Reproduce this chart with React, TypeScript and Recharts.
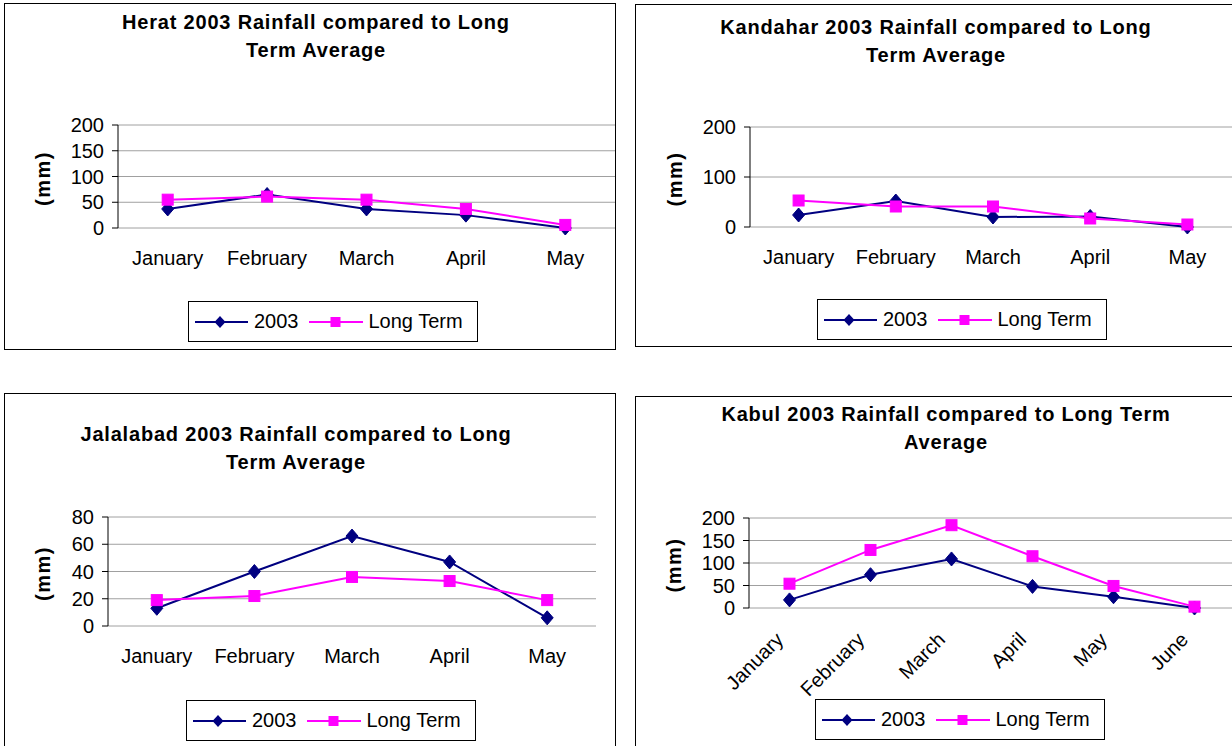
import { LineChart, Line, XAxis, YAxis, CartesianGrid } from "recharts"

const FONT = "Arial, 'Liberation Sans', sans-serif"
const NAVY = "#000080"
const MAGENTA = "#ff00ff"

// month categories
const months5 = ["January", "February", "March", "April", "May"]
const months6 = ["January", "February", "March", "April", "May", "June"]

// rainfall (mm)
const herat2003 = [37, 65, 37, 25, 0]
const heratLong = [55, 61, 55, 37, 6]
const heratTicks = [0, 50, 100, 150, 200]

const kandahar2003 = [24, 52, 20, 21, 0]
const kandaharLong = [53, 41, 41, 17, 5]
const kandaharTicks = [0, 100, 200]

const jalalabad2003 = [13, 40, 66, 47, 6]
const jalalabadLong = [19, 22, 36, 33, 19]
const jalalabadTicks = [0, 20, 40, 60, 80]

const kabul2003 = [18, 74, 109, 48, 25, 0]
const kabulLong = [54, 129, 184, 115, 49, 3]
const kabulTicks = [0, 50, 100, 150, 200]

type Rect = { left: number; top: number; width: number; height: number }
type PanelCfg = {
  box: Rect
  plot: { left: number; top: number; right: number; bottom: number }
  months: string[]
  series2003: number[]
  seriesLong: number[]
  yTicks: number[]
  title: string[]
  titleX: number
  titleY: number
  mmX: number
  legend: { left: number; top: number }
  slanted?: boolean
}

const panels: PanelCfg[] = [
  {
    box: { left: 4, top: 3, width: 612, height: 347 },
    plot: { left: 118, top: 125, right: 615, bottom: 228 },
    months: months5,
    series2003: herat2003,
    seriesLong: heratLong,
    yTicks: heratTicks,
    title: ["Herat 2003 Rainfall compared to Long", "Term Average"],
    titleX: 316,
    titleY: 22,
    mmX: 43,
    legend: { left: 188, top: 301 },
  },
  {
    box: { left: 635, top: 4, width: 605, height: 343 },
    plot: { left: 750, top: 127, right: 1236, bottom: 227 },
    months: months5,
    series2003: kandahar2003,
    seriesLong: kandaharLong,
    yTicks: kandaharTicks,
    title: ["Kandahar 2003 Rainfall compared to Long", "Term Average"],
    titleX: 936,
    titleY: 27,
    mmX: 675,
    legend: { left: 817, top: 299 },
  },
  {
    box: { left: 4, top: 393, width: 612, height: 360 },
    plot: { left: 108, top: 517, right: 596, bottom: 626 },
    months: months5,
    series2003: jalalabad2003,
    seriesLong: jalalabadLong,
    yTicks: jalalabadTicks,
    title: ["Jalalabad 2003 Rainfall compared to Long", "Term Average"],
    titleX: 296,
    titleY: 434,
    mmX: 43,
    legend: { left: 186, top: 700 },
  },
  {
    box: { left: 635, top: 396, width: 605, height: 360 },
    plot: { left: 749, top: 518, right: 1235, bottom: 608 },
    months: months6,
    series2003: kabul2003,
    seriesLong: kabulLong,
    yTicks: kabulTicks,
    title: ["Kabul 2003 Rainfall compared to Long Term", "Average"],
    titleX: 946,
    titleY: 414,
    mmX: 674,
    legend: { left: 815, top: 699 },
    slanted: true,
  },
]

const Diamond = (props: any) => {
  const { cx, cy } = props
  if (cx == null || cy == null) return <g />
  return <path d={`M${cx},${cy - 7} L${cx + 6},${cy} L${cx},${cy + 7} L${cx - 6},${cy} Z`} fill={NAVY} stroke={NAVY} />
}

const Square = (props: any) => {
  const { cx, cy } = props
  if (cx == null || cy == null) return <g />
  return <rect x={cx - 5.5} y={cy - 5.5} width={11} height={11} fill={MAGENTA} stroke={MAGENTA} />
}

const MmLabel = ({ cx, cy }: any) => (
  <text
    x={cx}
    y={cy}
    transform={`rotate(-90 ${cx} ${cy})`}
    textAnchor="middle"
    dominantBaseline="central"
    fontFamily={FONT}
    fontWeight="bold"
    fontSize={20}
    letterSpacing={1.5}
    fill="#000"
  >
    (mm)
  </text>
)

// Kabul month labels sit at 45 degrees, ending under the category
const SlantTick = ({ x, y, payload }: any) => (
  <text
    x={x - 10}
    y={y}
    transform={`rotate(-45 ${x - 10} ${y})`}
    textAnchor="end"
    dominantBaseline="central"
    fontFamily={FONT}
    fontSize={20}
    fill="#000"
  >
    {payload.value}
  </text>
)

function LegendBox({ left, top }: { left: number; top: number }) {
  return (
    <div
      style={{
        position: "absolute",
        left,
        top,
        width: 290,
        height: 41,
        boxSizing: "border-box",
        border: "1px solid #000",
        background: "#fff",
        display: "flex",
        alignItems: "center",
        paddingLeft: 6,
        fontFamily: FONT,
        fontSize: 20,
        whiteSpace: "nowrap",
      }}
    >
      <svg width={53} height={20}>
        <line x1={0} y1={10} x2={53} y2={10} stroke={NAVY} strokeWidth={2} />
        <path d="M25,4 L30.5,10 L25,16 L19.5,10 Z" fill={NAVY} />
      </svg>
      <span style={{ marginLeft: 6, marginRight: 10 }}>2003</span>
      <svg width={54} height={20}>
        <line x1={0} y1={10} x2={54} y2={10} stroke={MAGENTA} strokeWidth={2} />
        <rect x={21.5} y={5} width={10} height={10} fill={MAGENTA} />
      </svg>
      <span style={{ marginLeft: 6 }}>Long Term</span>
    </div>
  )
}

function Panel({ cfg }: { cfg: PanelCfg }) {
  const { box, plot, months, series2003, seriesLong, yTicks } = cfg
  const data = months.map((m, i) => ({ pos: i + 0.5, month: m, y2003: series2003[i], long: seriesLong[i] }))
  const yw = 60
  const xh = 60
  const margin = {
    top: plot.top - box.top,
    left: plot.left - box.left - yw,
    right: box.left + box.width - plot.right,
    bottom: box.top + box.height - plot.bottom - xh,
  }
  const bounds = months.map((_, i) => i).concat(months.length)
  const yMax = yTicks[yTicks.length - 1]

  return (
    <>
      <div
        style={{
          position: "absolute",
          left: box.left,
          top: box.top,
          width: box.width,
          height: box.height,
          boxSizing: "border-box",
          border: "1px solid #000",
        }}
      />
      <div
        style={{
          position: "absolute",
          left: cfg.titleX - 300,
          top: cfg.titleY - 14,
          width: 600,
          textAlign: "center",
          fontFamily: FONT,
          fontWeight: "bold",
          fontSize: 20,
          lineHeight: "28px",
          letterSpacing: 0.8,
        }}
      >
        {cfg.title[0]}
        <br />
        {cfg.title[1]}
      </div>
      <div style={{ position: "absolute", left: box.left, top: box.top }}>
        <LineChart width={box.width} height={box.height} data={data} margin={margin}>
          <CartesianGrid vertical={false} stroke="#a0a0a0" xAxisId="b" />
          {/* boundary ticks between months */}
          <XAxis
            xAxisId="b"
            type="number"
            dataKey="pos"
            domain={[0, months.length]}
            ticks={bounds}
            tick={false}
            tickSize={6}
            height={0}
            stroke="#000"
            allowDataOverflow
          />
          {/* month names centred in each band */}
          <XAxis
            xAxisId="m"
            dataKey="month"
            scale="band"
            axisLine={false}
            tickLine={false}
            tickSize={0}
            tickMargin={cfg.slanted ? 28 : 23}
            height={xh}
            interval={0}
            tick={cfg.slanted ? <SlantTick /> : { fill: "#000", fontSize: 20, fontFamily: FONT }}
          />
          <YAxis
            type="number"
            domain={[0, yMax]}
            ticks={yTicks}
            width={yw}
            tickSize={6}
            tickMargin={8}
            stroke="#000"
            interval={0}
            tick={{ fill: "#000", fontSize: 20, fontFamily: FONT }}
            label={<MmLabel cx={cfg.mmX - box.left} cy={(plot.top + plot.bottom) / 2 + 2 - box.top} />}
          />
          <Line
            xAxisId="b"
            type="linear"
            dataKey="y2003"
            stroke={NAVY}
            strokeWidth={2}
            dot={<Diamond />}
            activeDot={false}
            isAnimationActive={false}
          />
          <Line
            xAxisId="b"
            type="linear"
            dataKey="long"
            stroke={MAGENTA}
            strokeWidth={2}
            dot={<Square />}
            activeDot={false}
            isAnimationActive={false}
          />
        </LineChart>
      </div>
      <LegendBox left={cfg.legend.left} top={cfg.legend.top} />
    </>
  )
}

export default function App() {
  return (
    <div
      style={{
        position: "absolute",
        left: 0,
        top: 0,
        width: 1232,
        height: 746,
        overflow: "hidden",
        background: "#fff",
        color: "#000",
      }}
    >
      {panels.map((p) => (
        <Panel key={p.title[0]} cfg={p} />
      ))}
    </div>
  )
}
